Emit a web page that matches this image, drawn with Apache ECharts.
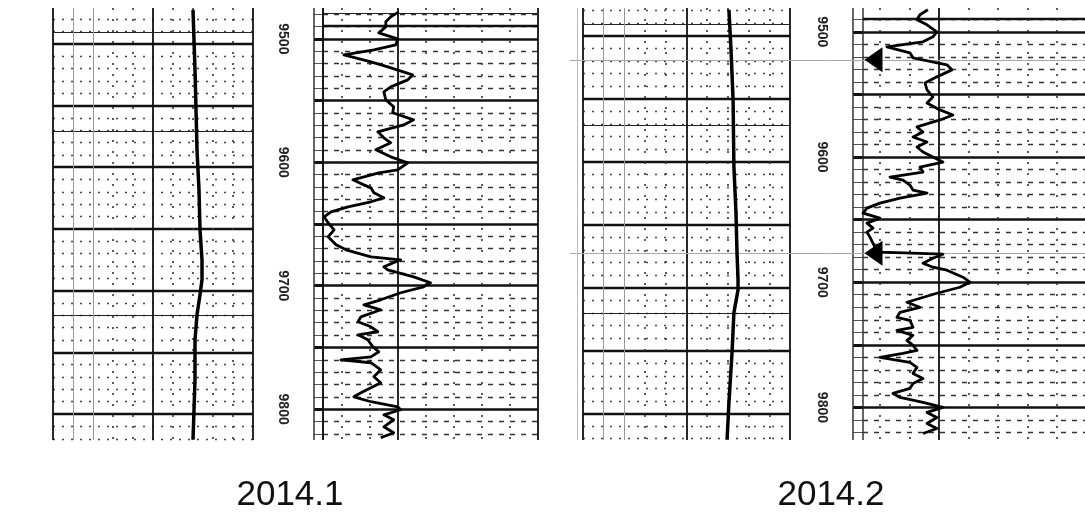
<!DOCTYPE html>
<html>
<head>
<meta charset="utf-8">
<script src="https://cdn.jsdelivr.net/npm/echarts@6/dist/echarts.min.js"></script>
<style>
  html, body { margin: 0; background: #fff; }
  #chart { width: 1085px; height: 531px; }
</style>
</head>
<body>
<div id="chart"></div>
<script>
const titles = ['2014.1', '2014.2']
const depthLabels = [9500, 9600, 9700, 9800]

// 2014.1, left track (smooth curve)
const depth1 = [9472.5, 9496.8, 9521.1, 9553.5, 9585.9, 9618.3, 9650.7, 9675, 9691.2, 9703.4, 9719.6, 9739.8, 9772.2, 9796.5, 9820.8]
const value1 = [70, 70.5, 71, 71.5, 72, 73, 73.5, 74.5, 74.5, 73.5, 72, 71, 71, 70.5, 70]

// 2014.1, right track
const depth2 = [9478.1, 9482.2, 9486.2, 9490.3, 9495.1, 9500, 9504.9, 9508.9, 9513, 9518.6, 9522.7, 9529.2, 9533.2, 9538.9, 9542.9, 9549.4, 9555.1, 9559.9, 9565.6, 9569.7, 9575.3, 9580.2, 9584.2, 9589.9, 9595.6, 9600.4, 9606.1, 9608.5, 9614.2, 9618.3, 9620.7, 9624.7, 9628.8, 9632, 9636.1, 9640.1, 9644.2, 9649, 9654.7, 9660.4, 9666.9, 9670.9, 9676.6, 9679, 9684.7, 9687.1, 9692.8, 9697.6, 9700.9, 9705.7, 9711.4, 9715.5, 9719.5, 9725.2, 9729.2, 9733.3, 9737.3, 9739.8, 9743.8, 9749.5, 9753.5, 9757.6, 9760, 9762.4, 9768.1, 9773.8, 9778.6, 9782.7, 9786.7, 9790, 9794, 9798.1, 9800.5, 9804.6, 9808.6, 9814.3, 9819.1, 9823.2]
const value2 = [60.9, 55.2, 51.7, 51.7, 46.7, 60.2, 58.8, 43.2, 21.9, 41.1, 53.1, 70.8, 67.3, 55.2, 50.3, 51.7, 57.3, 56.6, 71.5, 64.4, 46.0, 50.3, 55.2, 44.6, 55.2, 67.3, 60.2, 46.7, 28.3, 36.1, 41.1, 43.2, 50.3, 41.1, 24.8, 12.7, 7.8, 10.6, 14.9, 10.6, 16.3, 23.4, 41.1, 62.3, 50.3, 53.1, 71.5, 83.5, 78.6, 62.3, 48.1, 36.1, 48.1, 34.0, 31.9, 41.1, 46.0, 31.9, 38.9, 42.5, 46.7, 41.1, 19.8, 41.1, 48.1, 43.2, 48.1, 41.1, 34.0, 29.0, 41.1, 60.2, 62.3, 50.3, 57.3, 50.3, 57.3, 48.1]

// 2014.2, left track (smooth curve)
const depth3 = [9479.4, 9511.1, 9550.8, 9604, 9640.5, 9672.3, 9693.7, 9701.7, 9719.9, 9751.7, 9791.4, 9820.8]
const value3 = [70.5, 71.5, 72.5, 72.9, 73.9, 74.4, 74.9, 74.9, 72.9, 72.0, 70.5, 69.6]

// 2014.2, right track
const depth4 = [9482.4, 9486.4, 9490.4, 9494.4, 9500, 9504, 9508, 9512, 9516.8, 9520.8, 9526.4, 9530.4, 9536, 9540.8, 9546.4, 9552, 9556.8, 9562.4, 9566.4, 9570.4, 9576, 9580, 9584, 9588, 9592, 9596, 9600, 9604, 9608, 9612, 9616, 9618.4, 9622.4, 9626.4, 9628.8, 9632.8, 9636.8, 9640.8, 9644.8, 9648.8, 9652.8, 9656.8, 9660, 9664, 9672, 9676, 9677.6, 9680.8, 9684.8, 9688, 9690.4, 9696, 9700, 9704, 9708.8, 9716, 9720, 9724, 9728, 9730.4, 9736, 9738.4, 9742.4, 9746.4, 9750.4, 9754.4, 9756.8, 9760, 9764, 9768, 9772.8, 9776.8, 9780.8, 9784.8, 9788.8, 9792, 9796, 9800, 9804, 9808, 9812.8, 9816.8, 9820.8]
const value4 = [52.5, 47.1, 45.1, 51.9, 58.6, 55.9, 49.2, 24.7, 40.3, 42.4, 65.4, 68.8, 58.6, 50.5, 51.9, 55.9, 51.9, 60.7, 69.5, 60.7, 45.1, 49.2, 42.4, 51.9, 45.1, 49.2, 55.9, 62.7, 47.1, 49.2, 26.8, 35.6, 40.3, 42.4, 51.9, 33.6, 20.0, 11.2, 8.5, 20.0, 11.2, 15.3, 11.2, 13.2, 16.6, 20.0, 62.7, 55.9, 49.2, 55.9, 65.4, 76.3, 81.0, 74.2, 58.6, 38.3, 47.1, 33.6, 31.5, 40.3, 42.4, 31.5, 42.4, 38.3, 42.4, 45.1, 35.6, 20.0, 40.3, 45.1, 42.4, 49.2, 42.4, 40.3, 28.8, 33.6, 49.2, 62.7, 51.9, 58.6, 51.9, 58.6, 49.2]

// marked intervals on 2014.2
const markerDepths = [9522.4, 9676.8]
const markerValue = 15.6

// grid line positions
const majorDepths = [9500, 9550, 9600, 9650, 9700, 9750, 9800]
const minorDepths = []
for (let d = 9480; d <= 9820; d += 10) {
  if (d % 50 !== 0) minorDepths.push(d)
}
const thinDepthsA = [9491, 9571, 9720]
const extraDepthsB = [9489.5]
const thinDepthsB = [9479]
const ticksA = { solid: [0, 50, 100], grey: [10, 20], dotted: [30, 40, 60, 70, 80, 90] }
const ticksB = { solid: [7, 60, 160], dotted: [20, 40, 80, 100, 120, 140] }

const BLACK = '#111'
const vLines = (vals, style) => vals.map(v => ({ xAxis: v, lineStyle: style }))
const hLines = (vals, style) => vals.map(v => ({ yAxis: v, lineStyle: style }))

const trackALines = [
  ...hLines(minorDepths, { color: '#444', width: 1.4, type: [2, 7] }),
  ...hLines(thinDepthsA, { color: '#222', width: 1.2, type: 'solid' }),
  ...hLines(majorDepths, { color: BLACK, width: 2.4, type: 'solid' }),
  ...vLines(ticksA.grey, { color: '#999', width: 1, type: 'solid' }),
  ...vLines(ticksA.dotted, { color: '#333', width: 1.6, type: [2, 9] }),
  ...vLines(ticksA.solid, { color: BLACK, width: 1.8, type: 'solid' })
]
const trackBLines = [
  ...hLines(minorDepths, { color: '#333', width: 1.3, type: [5, 6] }),
  ...hLines(thinDepthsB, { color: '#222', width: 1.2, type: 'solid' }),
  ...hLines(extraDepthsB, { color: BLACK, width: 2.4, type: 'solid' }),
  ...hLines(majorDepths, { color: BLACK, width: 2.6, type: 'solid' }),
  ...vLines(ticksB.dotted, { color: '#333', width: 1.6, type: [2, 9] }),
  ...vLines(ticksB.solid, { color: BLACK, width: 1.8, type: 'solid' })
]
const depthColLines = [
  ...hLines(minorDepths, { color: '#555', width: 1, type: 'solid' }),
  ...hLines(majorDepths, { color: BLACK, width: 3, type: 'solid' }),
  ...vLines([0, 1], { color: '#333', width: 1.5, type: 'solid' })
]
const overlayLines = [
  ...hLines(markerDepths, { color: '#a8a8a8', width: 1, type: 'solid' }),
  ...vLines([1.4], { color: '#bbb', width: 1, type: 'solid' })
]

const grids = [
  { left: 53, top: 8, width: 200, height: 432 },
  { left: 314, top: 8, width: 9, height: 432 },
  { left: 323, top: 8, width: 215, height: 432 },
  { left: 583, top: 8, width: 207, height: 432 },
  { left: 853, top: 8, width: 10, height: 432 },
  { left: 863, top: 8, width: 223.4, height: 432 },
  { left: 570, top: 8, width: 515, height: 432 }
]
const xRanges = [[0, 100], [0, 1], [7, 160], [0, 100], [0, 1], [8.5, 160], [0, 100]]
const yRanges = [[9471, 9821], [9475, 9825], [9475, 9825], [9478, 9821], [9481, 9826], [9481, 9826], [9481, 9826]]

const depthAxisLabel = {
  customValues: depthLabels,
  formatter: v => String(v),
  rotate: -90,
  margin: 31,
  align: 'center',
  verticalAlign: 'middle',
  fontSize: 14,
  fontWeight: 'bold',
  fontFamily: 'Liberation Sans',
  color: '#222'
}

const gridSeries = (idx, lines) => ({
  type: 'line',
  xAxisIndex: idx,
  yAxisIndex: idx,
  data: [],
  z: 1,
  silent: true,
  markLine: {
    symbol: ['none', 'none'],
    silent: true,
    animation: false,
    label: { show: false },
    emphasis: { disabled: true },
    data: lines
  }
})
const curve = (idx, depth, value, width) => ({
  type: 'line',
  xAxisIndex: idx,
  yAxisIndex: idx,
  z: 5,
  symbol: 'none',
  silent: true,
  animation: false,
  data: depth.map((d, i) => [value[i], d]),
  lineStyle: { color: '#000', width, join: 'round' }
})

const chart = echarts.init(document.getElementById('chart'), null, { renderer: 'canvas' })
chart.setOption({
  backgroundColor: '#fff',
  animation: false,
  title: [
    { text: titles[0], left: 285, top: 473, textAlign: 'center' },
    { text: titles[1], left: 826, top: 473, textAlign: 'center' }
  ].map(t => ({
    ...t,
    textStyle: { fontSize: 35, fontWeight: 'normal', fontFamily: 'Liberation Sans', color: '#111' }
  })),
  grid: grids.map(g => ({ ...g, outerBoundsMode: 'none' })),
  xAxis: xRanges.map((r, i) => ({
    type: 'value', gridIndex: i, min: r[0], max: r[1], show: false
  })),
  yAxis: yRanges.map((r, i) => {
    const isDepthCol = i === 1 || i === 4
    return {
      type: 'value',
      gridIndex: i,
      inverse: true,
      min: r[0],
      max: r[1],
      show: isDepthCol,
      axisLine: { show: false },
      axisTick: { show: false },
      splitLine: { show: false },
      axisLabel: isDepthCol ? depthAxisLabel : { show: false }
    }
  }),
  series: [
    gridSeries(0, trackALines),
    gridSeries(1, depthColLines),
    gridSeries(2, trackBLines),
    gridSeries(3, trackALines),
    gridSeries(4, depthColLines),
    gridSeries(5, trackBLines),
    gridSeries(6, overlayLines),
    curve(0, depth1, value1, 3.5),
    curve(2, depth2, value2, 2.8),
    curve(3, depth3, value3, 3.5),
    curve(5, depth4, value4, 2.8),
    {
      type: 'scatter',
      xAxisIndex: 5,
      yAxisIndex: 5,
      z: 6,
      silent: true,
      symbol: 'triangle',
      symbolRotate: 90,
      symbolSize: [25, 18],
      itemStyle: { color: '#000', opacity: 1 },
      data: markerDepths.map(d => [markerValue, d])
    }
  ]
})
window.addEventListener('resize', () => chart.resize())
</script>
</body>
</html>
